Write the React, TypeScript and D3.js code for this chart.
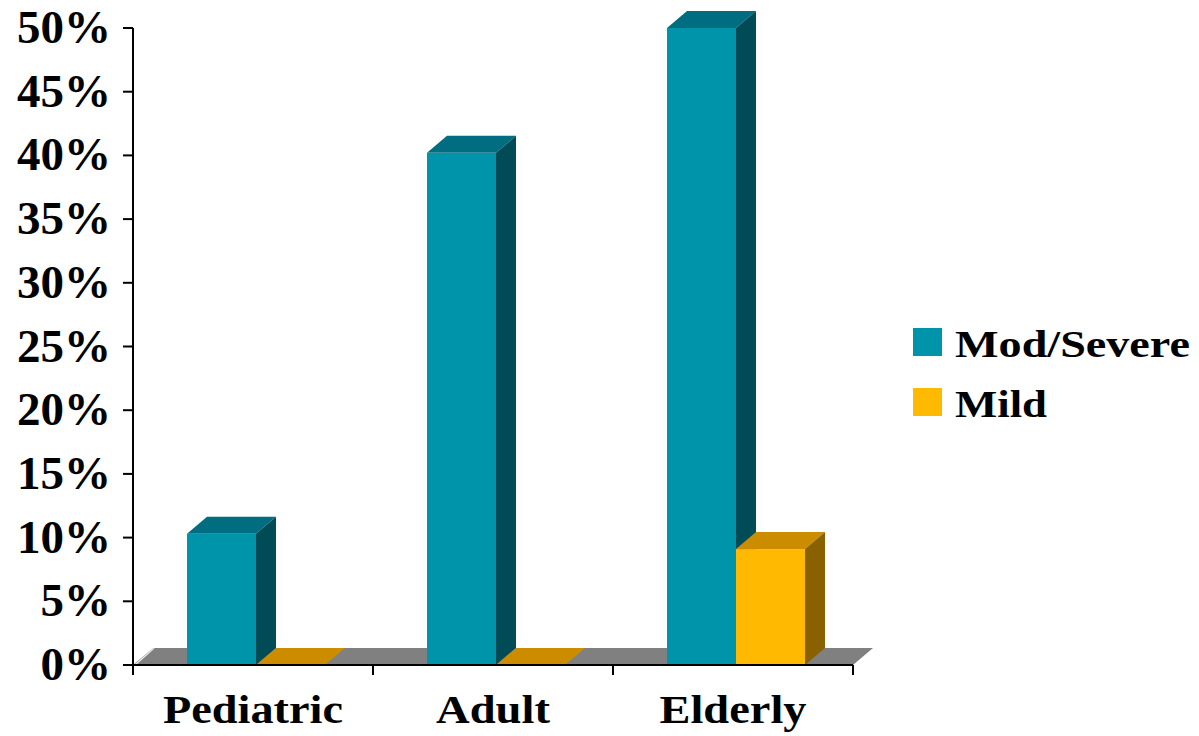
import React from "react";
import * as d3 from "d3";

const categories = ["Pediatric", "Adult", "Elderly"];
const seriesNames = ["Mod/Severe", "Mild"];
const modSevere = [10.3, 40.2, 50];
const mild = [0, 0, 9.1];
const yTicks = [0, 5, 10, 15, 20, 25, 30, 35, 40, 45, 50];
const categoryLabelWidths = [180, 114, 147];
const legendLabelWidths = [235, 92];

const W = 1199;
const H = 736;
const FONT = "'Liberation Serif', 'Times New Roman', serif";

const colors = [
  { front: "#0094AA", top: "#006E80", side: "#004B55" },
  { front: "#FFB900", top: "#CC8C00", side: "#8A6100" },
];

export default function App() {
  const x0 = 133;
  const x1 = 853;
  const yBase = 665;
  const yTop = 28;
  const dx = 20;
  const dy = 17;
  const barW = 69;

  const y = d3.scaleLinear().domain([0, 50]).range([yBase, yTop]);
  const xBand = d3.scaleBand<string>().domain(categories).range([x0, x1]).padding(0);
  const bw = xBand.bandwidth();
  const values = [modSevere, mild];

  const bars: React.ReactNode[] = [];
  categories.forEach((c, ci) => {
    const start = (xBand(c) as number) + (bw - 2 * barW) / 2 + 3;
    values.forEach((vals, si) => {
      const v = vals[ci];
      const bx0 = start + si * barW;
      const bx1 = bx0 + barW;
      const yv = y(v);
      const col = colors[si];
      const key = `${ci}-${si}`;
      bars.push(
        <g key={key}>
          {v > 0 && <rect x={bx0} y={yv} width={barW} height={yBase - yv} fill={col.front} />}
          <polygon
            points={`${bx0},${yv} ${bx0 + dx},${yv - dy} ${bx1 + dx},${yv - dy} ${bx1},${yv}`}
            fill={col.top}
          />
          {v > 0 && (
            <polygon
              points={`${bx1},${yv} ${bx1 + dx},${yv - dy} ${bx1 + dx},${yBase - dy} ${bx1},${yBase}`}
              fill={col.side}
            />
          )}
        </g>
      );
    });
  });

  const catTicks = [x0, ...categories.map((c) => (xBand(c) as number) + bw)];

  return (
    <div style={{ position: "absolute", left: 0, top: 0 }}>
      <svg width={W} height={H} style={{ display: "block", background: "#fff" }}>
        {/* floor */}
        <polygon
          points={`${x0},${yBase} ${x0 + dx},${yBase - dy} ${x1 + dx},${yBase - dy} ${x1},${yBase}`}
          fill="#808080"
        />
        <line x1={x0 + 2} y1={yBase} x2={x0 + dx + 1} y2={yBase - dy} stroke="#e8e8e8" strokeWidth={1.5} />
        {bars}
        {/* y axis */}
        <line x1={x0} y1={yTop} x2={x0} y2={yBase} stroke="#000" strokeWidth={2} />
        {yTicks.map((t) => (
          <g key={t}>
            <line x1={x0 - 10} y1={y(t)} x2={x0} y2={y(t)} stroke="#000" strokeWidth={2} />
            <text
              x={111}
              y={y(t) + 15}
              textAnchor="end"
              fontFamily={FONT}
              fontWeight="bold"
              fontSize={47}
              fill="#000"
            >
              {t}%
            </text>
          </g>
        ))}
        {/* x axis */}
        <line x1={x0} y1={yBase} x2={x1} y2={yBase} stroke="#000" strokeWidth={2} />
        {catTicks.map((t, i) => (
          <line key={i} x1={t} y1={yBase} x2={t} y2={yBase + 10} stroke="#000" strokeWidth={2} />
        ))}
        {categories.map((c, i) => (
          <text
            key={c}
            x={(xBand(c) as number) + bw / 2}
            y={723}
            textAnchor="middle"
            fontFamily={FONT}
            fontWeight="bold"
            fontSize={41}
            textLength={categoryLabelWidths[i]}
            lengthAdjust="spacingAndGlyphs"
            fill="#000"
          >
            {c}
          </text>
        ))}
        {/* legend */}
        {seriesNames.map((s, i) => (
          <g key={s} transform={`translate(913, ${328 + i * 60})`}>
            <rect x={0} y={0} width={29} height={28} fill={colors[i].front} />
            <text
              x={42}
              y={29}
              fontFamily={FONT}
              fontWeight="bold"
              fontSize={37}
              textLength={legendLabelWidths[i]}
              lengthAdjust="spacingAndGlyphs"
              fill="#000"
            >
              {s}
            </text>
          </g>
        ))}
      </svg>
    </div>
  );
}
